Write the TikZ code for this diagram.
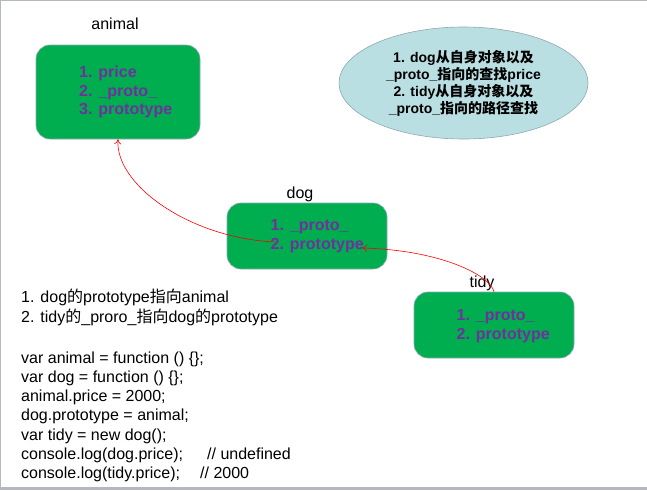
\documentclass[tikz,border=0pt]{standalone}
\usepackage{fontspec}
\setmainfont{Liberation Sans}
\newfontfamily\cjk{Noto Sans CJK SC}
\usetikzlibrary{arrows.meta,shapes.geometric}
\definecolor{boxgreen}{HTML}{00AD4F}
\definecolor{boxedge}{HTML}{8FA8B8}
\definecolor{txtpurple}{HTML}{7030A0}
\definecolor{ellfill}{HTML}{B9DFE2}
\definecolor{elledge}{HTML}{8FA9AE}
\definecolor{framegray}{HTML}{B4B8C2}
\begin{document}
\begin{tikzpicture}[x=1pt,y=-1pt,
  objbox/.style={draw=boxedge, line width=0.6pt, fill=boxgreen, rounded corners=14pt, inner sep=0pt},
  boxtext/.style={text=txtpurple, font=\fontsize{16}{18.8}\selectfont\bfseries, align=left, anchor=west, inner sep=0pt},
  objlabel/.style={font=\fontsize{16}{19}\selectfont, inner sep=0pt},
  codeline/.style={font=\fontsize{16}{19}\selectfont, inner sep=0pt, anchor=base west},
  link/.style={draw=red, line width=0.6pt, -{To[length=5pt,width=7pt]}}
]
\useasboundingbox (0,0) rectangle (647,490);
% frame
\draw[framegray, line width=1.2pt] (0.6,0) -- (0.6,490);
\draw[framegray, line width=1.2pt] (0,0.6) -- (647,0.6);
\fill[framegray] (0,487) rectangle (647,490);

% animal
\node[objlabel] (animallbl) at (115,24) {animal};
\node[objbox, minimum width=164pt, minimum height=94pt] (animal) at (118,92) {};
\node[boxtext] (animaltxt) at (79,92) {1. price\\2. \_proto\_\\3. prototype};

% dog
\node[objlabel] (doglbl) at (300,194) {dog};
\node[objbox, minimum width=160pt, minimum height=66pt] (dog) at (307,236) {};
\node[boxtext] (dogtxt) at (270.5,236.5) {1. \_proto\_\\2. prototype};

% tidy
\node[objlabel] (tidylbl) at (482,283) {tidy};
\node[objbox, minimum width=160pt, minimum height=66pt] (tidy) at (494,325) {};
\node[boxtext] (tidytxt) at (456.5,326) {1. \_proto\_\\2. prototype};

% ellipse note
\node[ellipse, draw=elledge, line width=0.6pt, fill=ellfill, minimum width=249pt, minimum height=112pt, inner sep=0pt,
      align=center, font=\fontsize{14}{17}\selectfont\bfseries] (note) at (463.5,83)
  {1. dog{\cjk 从自身对象以及}\\\_proto\_{\cjk 指向的查找}price\\2. tidy{\cjk 从自身对象以及}\\\_proto\_{\cjk 指向的路径查找}};

% code text
\node[codeline] (c1) at (21,302) {1. dog{\cjk 的}prototype{\cjk 指向}animal};
\node[codeline] (c2) at (21,322) {2. tidy{\cjk 的}\_proro\_{\cjk 指向}dog{\cjk 的}prototype};
\node[codeline] (c3) at (21,363) {var animal = function () \{\};};
\node[codeline] (c4) at (21,382.3) {var dog = function () \{\};};
\node[codeline] (c5) at (21,401.6) {animal.price = 2000;};
\node[codeline] (c6) at (21,420.9) {dog.prototype = animal;};
\node[codeline] (c7) at (21,440.2) {var tidy = new dog();};
\node[codeline] (c8) at (21,459.5) {\makebox[186pt][l]{console.log(dog.price);}// undefined};
\node[codeline] (c9) at (21,478.8) {\makebox[179pt][l]{console.log(tidy.price);}// 2000};

% connectors
\coordinate (dogfrom) at (275,242);
\coordinate (dogto) at (362,248);
\draw[link] (dogfrom) .. controls (190,238) and (115,185) .. (animal.south);
\draw[link] (tidy.north) .. controls (490,275) and (440,250) .. (dogto);
\end{tikzpicture}
\end{document}
